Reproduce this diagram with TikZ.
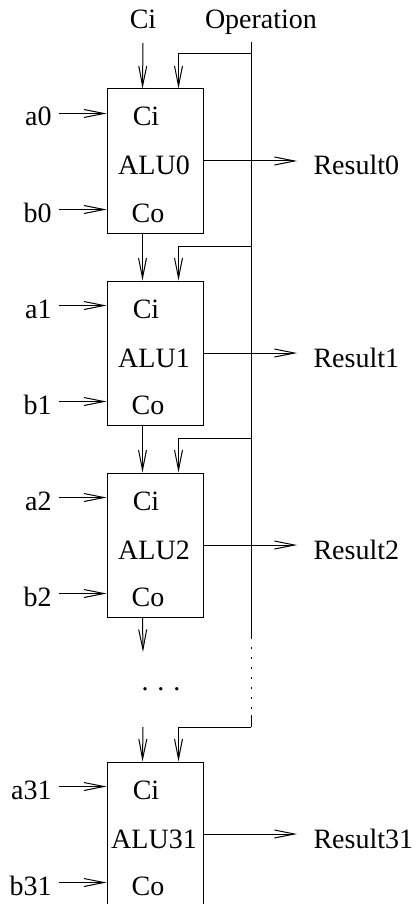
\documentclass[tikz,border=0pt]{standalone}
\usepackage{fontspec}
\setmainfont{Liberation Serif}
\usetikzlibrary{arrows.meta}
\begin{document}
\begin{tikzpicture}[x=1pt,y=-1pt,line width=1pt,
  arr/.style={-{Straight Barb[length=20pt,width=8pt]}},
  alubox/.style={draw,minimum width=96pt,minimum height=144pt,inner sep=0pt},
  lbl/.style={font=\fontsize{28}{30}\selectfont,inner sep=0pt},
  opdots/.style={dash pattern=on 1.5pt off 8.5pt}]
\clip (0,0) rectangle (415,904);
% top inputs
\node[lbl,anchor=base] (cilbl) at (143,29) {Ci};
\node[lbl,anchor=base] (oplbl) at (261,29) {Operation};
\coordinate (optop) at (251,42);
% ALU slices
\foreach \k/\t in {0/89,1/281,2/473,31/762}{
  \node[alubox] (alu\k) at (155,\t+72) {};
  \node[lbl,anchor=base] (ci\k) at (146,\t+37) {Ci};
  \node[lbl,anchor=base] (alulbl\k) at (154,\t+86) {ALU\k};
  \node[lbl,anchor=base] (co\k) at (148,\t+133) {Co};
  \node[lbl,anchor=base east] (a\k) at (52,\t+37) {a\k};
  \node[lbl,anchor=base east] (b\k) at (52,\t+133) {b\k};
  \node[lbl,anchor=base west] (r\k) at (313,\t+86) {Result\k};
  \coordinate (ain\k) at ([yshift=-25pt]alu\k.north west);
  \coordinate (bin\k) at ([yshift=-121pt]alu\k.north west);
  \coordinate (cin\k) at ([xshift=36pt]alu\k.north west);
  \coordinate (opin\k) at ([xshift=72pt]alu\k.north west);
  \coordinate (cout\k) at ([xshift=36pt]alu\k.south west);
  \coordinate (optap\k) at (251,\t-35);
  \draw[arr] ([xshift=7pt]a\k.east |- ain\k) -- (ain\k);
  \draw[arr] ([xshift=7pt]b\k.east |- bin\k) -- (bin\k);
  \draw[arr] (alu\k.east) -- ([xshift=-16pt]r\k.west |- alu\k.east);
  \draw[arr] (optap\k) -| (opin\k);
}
% carry chain
\draw[arr] ([yshift=-13pt]cilbl.south) -- (cin0);
\draw[arr] (cout0) -- (cin1);
\draw[arr] (cout1) -- (cin2);
\coordinate (cmid) at (143,652);
\coordinate (cmid2) at (143,727);
\draw[arr] (cout2) -- (cmid);
\draw[arr] (cmid2) -- (cin31);
\node[lbl,anchor=base] (dots) at (161,690) {.\hspace{9pt}.\hspace{9pt}.};
% operation bus
\coordinate (opdotA) at (251,637);
\coordinate (opdotB) at (251,715);
\draw (optop) -- (opdotA);
\draw[opdots] (opdotA) -- (opdotB);
\draw (opdotB) -- (optap31);
\end{tikzpicture}
\end{document}
